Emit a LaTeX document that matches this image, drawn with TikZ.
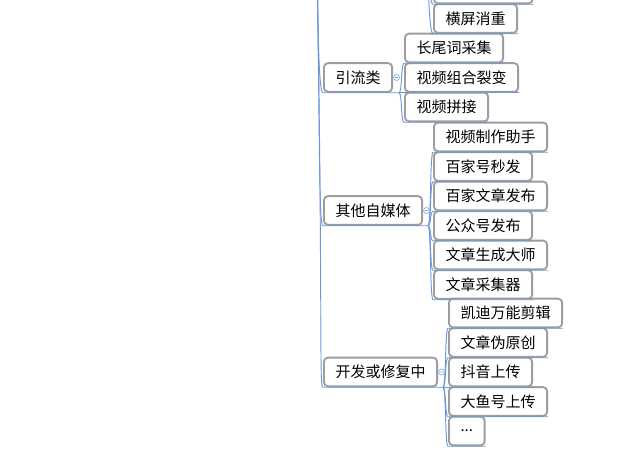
\documentclass[tikz,border=0pt]{standalone}
\usepackage{fontspec}
\newfontfamily\cjkfont{Noto Sans CJK SC}
\usetikzlibrary{positioning, calc}
\definecolor{linkblue}{RGB}{108,150,222}
\definecolor{framegray}{RGB}{158,158,158}

\begin{document}
\begin{tikzpicture}[x=0.75pt, y=-0.75pt,
        topic/.style={draw=framegray, line width=1.4pt, rounded corners=3pt, fill=white, anchor=west,
            inner xsep=8.7pt, inner ysep=0pt, minimum height=21.5pt, font=\cjkfont\fontsize{11.25}{13}\selectfont},
        link/.style={draw=linkblue, line width=0.7pt},
        fold/.style={draw=linkblue!80, line width=0.5pt}]
        \path[use as bounding box, clip] (0,0) rectangle (640,463);
        \fill[white] (0,0) rectangle (640,463);

        % Root and upper branch (outside the picture)
        \coordinate (root) at (317,-40);
        \coordinate (upper) at (428,-40);

        % Upper branch
        \node[topic, minimum width=74pt] (upperbox) at (433,-11) {};
        \node[topic] (hengping) at (433,18.5) {横屏消重};

        % 引流类
        \node[topic] (yinliu) at (323,77.5) {引流类};
        \node[topic] (changwei) at (404,48) {长尾词采集};
        \node[topic] (liebian) at (404,77.5) {视频组合裂变};
        \node[topic] (pinjie) at (404,107) {视频拼接};

        % 其他自媒体
        \node[topic] (qita) at (323,210.5) {其他自媒体};
        \node[topic] (zhushou) at (433,137) {视频制作助手};
        \node[topic] (miaofa) at (433,166.5) {百家号秒发};
        \node[topic] (baijia) at (433,196) {百家文章发布};
        \node[topic] (gongzhong) at (433,225.5) {公众号发布};
        \node[topic] (dashi) at (433,255) {文章生成大师};
        \node[topic] (caiji) at (433,284.5) {文章采集器};

        % 开发或修复中
        \node[topic] (kaifa) at (323,372) {开发或修复中};
        \node[topic] (kaidi) at (448,313) {凯迪万能剪辑};
        \node[topic] (weiyuan) at (448,342.5) {文章伪原创};
        \node[topic] (douyin) at (448,372) {抖音上传};
        \node[topic] (dayu) at (448,401.5) {大鱼号上传};
        \node[topic] (more) at (448,431) {...};

        % Hubs
        \coordinate (yinliu-hub) at ($(yinliu.south east)+(6,0)$);
        \coordinate (qita-hub) at ($(qita.south east)+(5,0)$);
        \coordinate (kaifa-hub) at ($(kaifa.south east)+(5,0)$);

        % Trunk
        \draw[link] (root) .. controls +(1,80) and +(-4,0) .. (yinliu.south west) -- (yinliu-hub);
        \draw[link] (root) .. controls +(3,200) and +(-4,0) .. (qita.south west) -- (qita-hub);
        \draw[link] (root) .. controls +(6,360) and +(-4,0) .. (kaifa.south west) -- (kaifa-hub);

        % Upper branch links
        \draw[link] (upper) .. controls +(0,20) and +(-3,0) .. (upperbox.south west) -- (upperbox.south east);
        \draw[link] (upper) .. controls +(0,40) and +(-3,0) .. (hengping.south west) -- (hengping.south east);

        % Children links
        \draw[link] (yinliu-hub) .. controls +(3,0) and +(-3,0) .. (changwei.south west) -- (changwei.south east);
        \draw[link] (yinliu-hub) .. controls +(3,0) and +(-3,0) .. (liebian.south west) -- (liebian.south east);
        \draw[link] (yinliu-hub) .. controls +(3,0) and +(-3,0) .. (pinjie.south west) -- (pinjie.south east);

        \draw[link] (qita-hub) .. controls +(3,0) and +(-3,0) .. (zhushou.south west) -- (zhushou.south east);
        \draw[link] (qita-hub) .. controls +(3,0) and +(-3,0) .. (miaofa.south west) -- (miaofa.south east);
        \draw[link] (qita-hub) .. controls +(3,0) and +(-3,0) .. (baijia.south west) -- (baijia.south east);
        \draw[link] (qita-hub) .. controls +(3,0) and +(-3,0) .. (gongzhong.south west) -- (gongzhong.south east);
        \draw[link] (qita-hub) .. controls +(3,0) and +(-3,0) .. (dashi.south west) -- (dashi.south east);
        \draw[link] (qita-hub) .. controls +(3,0) and +(-3,0) .. (caiji.south west) -- (caiji.south east);

        \draw[link] (kaifa-hub) .. controls +(3,0) and +(-3,0) .. (kaidi.south west) -- (kaidi.south east);
        \draw[link] (kaifa-hub) .. controls +(3,0) and +(-3,0) .. (weiyuan.south west) -- (weiyuan.south east);
        \draw[link] (kaifa-hub) .. controls +(3,0) and +(-3,0) .. (douyin.south west) -- (douyin.south east);
        \draw[link] (kaifa-hub) .. controls +(3,0) and +(-3,0) .. (dayu.south west) -- (dayu.south east);
        \draw[link] (kaifa-hub) .. controls +(3,0) and +(-3,0) .. (more.south west) -- (more.south east);

        % Fold markers
        \draw[fold, fill=white] (yinliu.east) ++(3.5,0) circle (3) ++(-1.8,0) -- ++(3.6,0);
        \draw[fold, fill=white] (qita.east) ++(3.5,0) circle (3) ++(-1.8,0) -- ++(3.6,0);
        \draw[fold, fill=white] (kaifa.east) ++(3.5,0) circle (3) ++(-1.8,0) -- ++(3.6,0);
    \end{tikzpicture}
\end{document}
